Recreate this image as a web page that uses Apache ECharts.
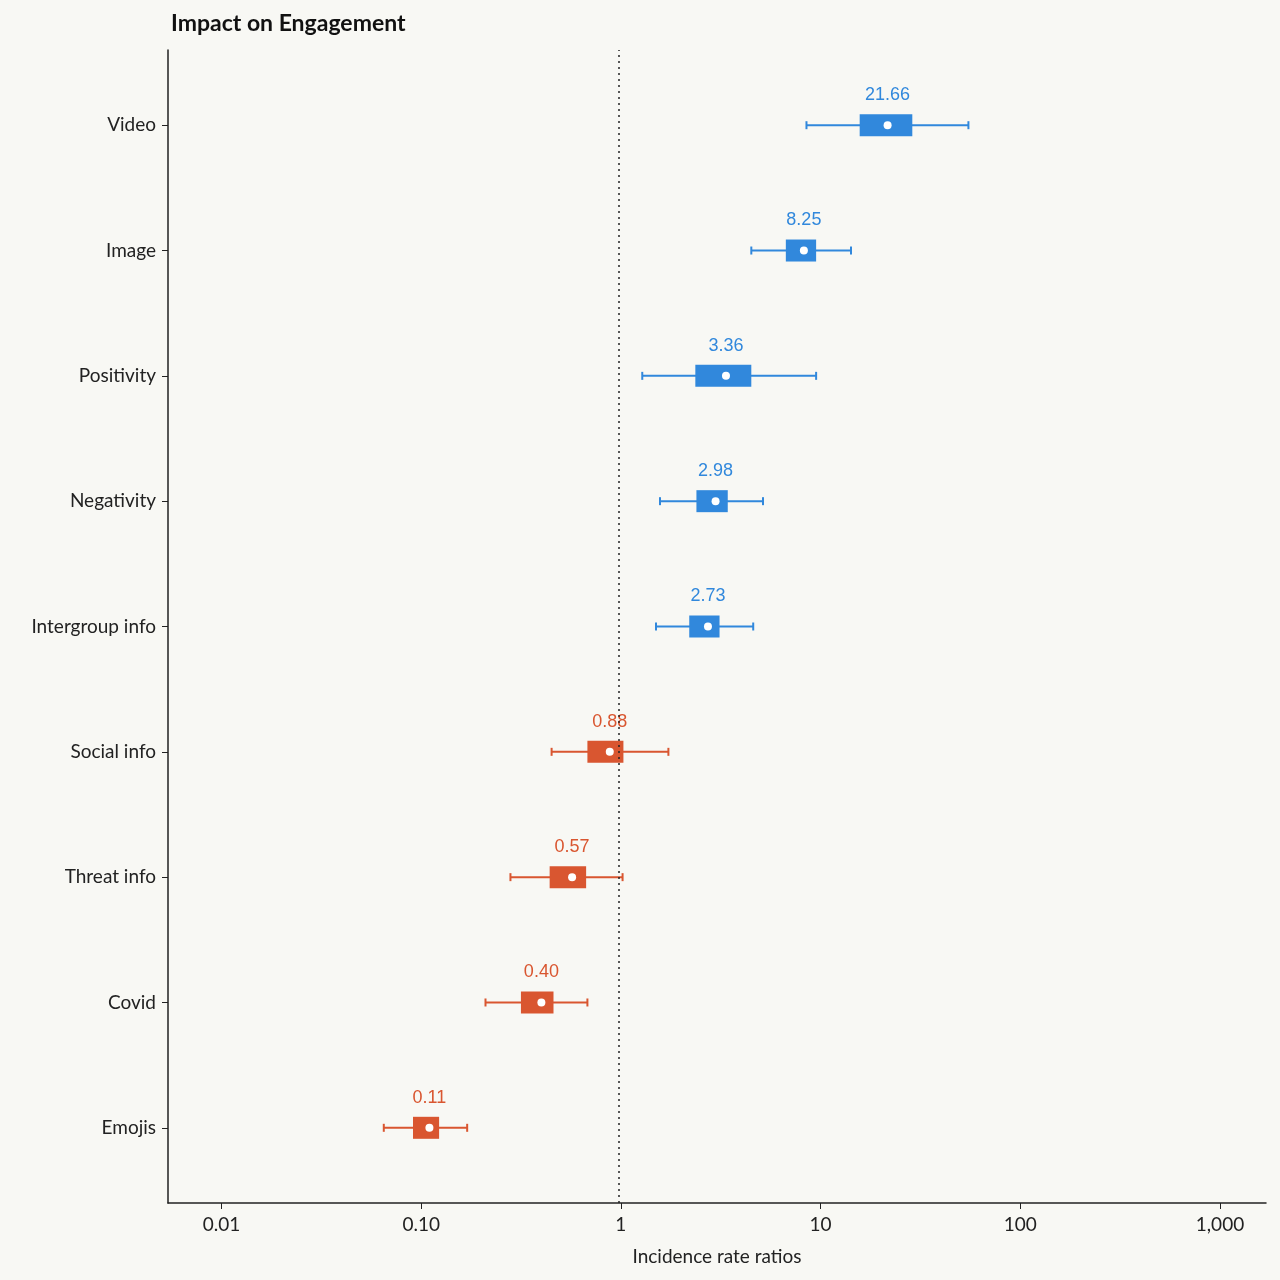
<!DOCTYPE html>
<html>
<head>
<meta charset="utf-8">
<script src="https://cdn.jsdelivr.net/npm/echarts@6/dist/echarts.min.js"></script>
<style>
  html, body { margin: 0; background: #f8f8f4; }
  #chart { width: 1280px; height: 1280px; }
</style>
</head>
<body>
<div id="chart"></div>
<script>
const categories = ['Emojis', 'Covid', 'Threat info', 'Social info', 'Intergroup info', 'Negativity', 'Positivity', 'Image', 'Video'];
const estimates = [0.11, 0.40, 0.57, 0.88, 2.73, 2.98, 3.36, 8.25, 21.66];
const ciLow = [0.065, 0.21, 0.28, 0.45, 1.5, 1.57, 1.28, 4.5, 8.5];
const ciHigh = [0.17, 0.68, 1.02, 1.73, 4.6, 5.15, 9.5, 14.2, 55];
const boxLow = [0.091, 0.316, 0.44, 0.68, 2.2, 2.39, 2.36, 6.7, 15.7];
const boxHigh = [0.123, 0.46, 0.67, 1.03, 3.12, 3.43, 4.5, 9.5, 28.8];
const tickValues = [0.01, 0.1, 1, 10, 100, 1000];
const tickLabels = ['0.01', '0.10', '1', '10', '100', '1,000'];

const blue = '#3188dc', orange = '#d95630';
const L = Math.log10;
const data = categories.map((c, i) => [i, L(ciLow[i]), L(boxLow[i]), L(estimates[i]), L(boxHigh[i]), L(ciHigh[i]), estimates[i]]);

const chart = echarts.init(document.getElementById('chart'));
chart.setOption({
  backgroundColor: '#f8f8f4',
  title: { text: 'Impact on Engagement', left: 166, top: 7,
    textStyle: { fontFamily: 'Lato', fontWeight: 'bold', fontSize: 23, color: '#111' } },
  grid: { left: 168, right: 14, top: 50, bottom: 77 },
  xAxis: {
    type: 'value', min: L(0.0054), max: L(1700),
    name: 'Incidence rate ratios', nameLocation: 'middle', nameGap: 44,
    nameTextStyle: { fontFamily: 'Lato', fontSize: 19, color: '#222' },
    splitLine: { show: false },
    axisLine: { onZero: false, lineStyle: { color: '#222', width: 1.5 } },
    axisTick: { show: true, customValues: tickValues.map(L), length: 6, lineStyle: { color: '#222' } },
    axisLabel: { customValues: tickValues.map(L), fontFamily: 'Lato', fontSize: 19, color: '#222', margin: 12,
      formatter: v => tickLabels[tickValues.findIndex(t => Math.abs(L(t) - v) < 1e-6)] }
  },
  yAxis: {
    type: 'value', min: -0.6, max: 8.6,
    splitLine: { show: false },
    axisLine: { show: true, onZero: false, lineStyle: { color: '#222', width: 1.5 } },
    axisTick: { show: true, customValues: categories.map((c, i) => i), length: 6, lineStyle: { color: '#222' } },
    axisLabel: { customValues: categories.map((c, i) => i), fontFamily: 'Lato', fontSize: 19, color: '#222', margin: 12,
      formatter: v => categories[Math.round(v)] }
  },
  series: [{
    type: 'custom',
    data: data,
    renderItem: (params, api) => {
      const y = api.value(0);
      const col = api.value(6) >= 1 ? blue : orange;
      const lo = api.coord([api.value(1), y]), q1 = api.coord([api.value(2), y]);
      const est = api.coord([api.value(3), y]), q3 = api.coord([api.value(4), y]);
      const hi = api.coord([api.value(5), y]);
      const cy = lo[1];
      return { type: 'group', children: [
        { type: 'line', shape: { x1: lo[0], y1: cy, x2: hi[0], y2: cy }, style: { stroke: col, lineWidth: 2 } },
        { type: 'line', shape: { x1: lo[0], y1: cy - 4, x2: lo[0], y2: cy + 4 }, style: { stroke: col, lineWidth: 2 } },
        { type: 'line', shape: { x1: hi[0], y1: cy - 4, x2: hi[0], y2: cy + 4 }, style: { stroke: col, lineWidth: 2 } },
        { type: 'rect', shape: { x: q1[0], y: cy - 11, width: q3[0] - q1[0], height: 22 }, style: { fill: col } },
        { type: 'circle', shape: { cx: est[0], cy: cy, r: 4 }, style: { fill: '#fff' } },
        { type: 'text', x: est[0], y: cy - 30, style: { text: api.value(6).toFixed(2), fill: col,
          font: '18px "Liberation Sans"', align: 'center', verticalAlign: 'middle' } }
      ] };
    },
    markLine: {
      silent: true, symbol: 'none', label: { show: false },
      lineStyle: { type: [2, 4], color: '#222', width: 1.5 },
      data: [{ xAxis: L(0.98) }]
    },
    z: 3
  }]
});
</script>
</body>
</html>
